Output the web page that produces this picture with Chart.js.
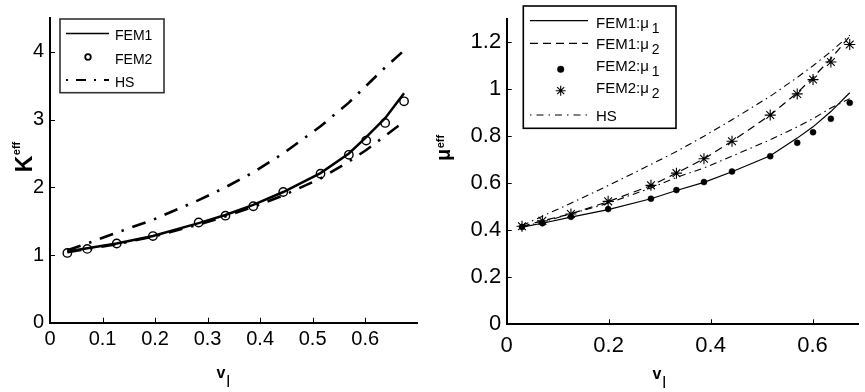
<!DOCTYPE html>
<html><head><meta charset="utf-8">
<script src="https://cdn.jsdelivr.net/npm/chart.js@4/dist/chart.umd.min.js"></script>
<style>
html,body{margin:0;padding:0;background:#fff;width:865px;height:392px;overflow:hidden}
#c1{position:absolute;left:0;top:0}
#c2{position:absolute;left:432px;top:0}
</style></head><body>
<canvas id="c1" width="432" height="392"></canvas>
<canvas id="c2" width="433" height="392"></canvas>
<script>
// ---------- data: left panel (bulk modulus) ----------
const vI = [0.033,0.071,0.127,0.196,0.283,0.334,0.387,0.444,0.515,0.569,0.602,0.638,0.674];
const kFEM1 = [1.05,1.10,1.17,1.28,1.47,1.59,1.74,1.93,2.21,2.50,2.74,3.02,3.39];
const kFEM2 = [1.03,1.09,1.17,1.28,1.48,1.58,1.72,1.93,2.20,2.48,2.69,2.95,3.27];
const kHSUpper = [1.07,1.17,1.33,1.52,1.81,2.00,2.22,2.50,2.90,3.25,3.50,3.77,4.02];
const kHSLower = [1.04,1.09,1.16,1.27,1.45,1.57,1.71,1.88,2.13,2.38,2.55,2.76,2.97];
const kTicksX = [0,0.1,0.2,0.3,0.4,0.5,0.6];
const kTicksY = [0,1,2,3,4];
const kLegend = ['FEM1','FEM2','HS'];
const kTitleX = 'v_I';
const kTitleY = 'K^eff';

// ---------- data: right panel (shear modulus) ----------
const vI2 = [0.030,0.070,0.126,0.199,0.283,0.333,0.387,0.442,0.517,0.570,0.601,0.636,0.673];
const mu1FEM1 = [0.413,0.430,0.456,0.488,0.534,0.569,0.604,0.649,0.717,0.792,0.840,0.905,0.985];
const mu2FEM1 = [0.417,0.440,0.470,0.522,0.590,0.643,0.704,0.779,0.890,0.985,1.050,1.130,1.225];
const mu1FEM2 = [0.414,0.430,0.457,0.490,0.534,0.571,0.605,0.650,0.715,0.772,0.817,0.874,0.942];
const mu2FEM2 = [0.417,0.440,0.469,0.523,0.591,0.643,0.704,0.779,0.890,0.980,1.041,1.116,1.190];
const muHSUpper = [0.420,0.460,0.515,0.590,0.680,0.735,0.800,0.870,0.970,1.050,1.100,1.160,1.230];
const muHSLower = [0.415,0.435,0.470,0.515,0.580,0.625,0.665,0.715,0.785,0.840,0.875,0.920,0.960];
const muTicksX = [0,0.2,0.4,0.6];
const muTicksY = [0,0.2,0.4,0.6,0.8,1,1.2];
const muLegend = ['FEM1:μ_1','FEM1:μ_2','FEM2:μ_1','FEM2:μ_2','HS'];
const muTitleX = 'v_I';
const muTitleY = 'μ^eff';

// ---------- helpers ----------
const pts = (xs, ys) => xs.map((x, i) => ({x, y: ys[i]}));
const fmt = v => String(Number(v.toFixed(3)));

function richParts(str) {
  const m = str.match(/^([^_^]*)([_^])(.*)$/);
  if (!m) return [{t: str, k: 'base'}];
  return [{t: m[1], k: 'base'}, {t: m[3], k: m[2] === '^' ? 'sup' : 'sub'}];
}
function drawRich(ctx, str, x, y, st, align) {
  const parts = richParts(str);
  const widths = parts.map(p => { ctx.font = st[p.k].font; return ctx.measureText(p.t).width; });
  const gap = st.gap || 0;
  const total = widths.reduce((a, b) => a + b, 0) + gap * (parts.length - 1);
  let cx = align === 'center' ? x - total / 2 : x;
  ctx.textBaseline = 'alphabetic';
  ctx.textAlign = 'left';
  parts.forEach((p, i) => {
    ctx.font = st[p.k].font;
    ctx.fillText(p.t, cx, y + (st[p.k].dy || 0));
    cx += widths[i] + gap;
  });
}

const extras = {
  id: 'extras',
  afterDraw(chart, args, o) {
    const ctx = chart.ctx;
    const xs = chart.scales.x, ys = chart.scales.y;
    ctx.save();
    // inward tick marks
    ctx.strokeStyle = '#000';
    ctx.lineWidth = 1;
    xs.ticks.forEach(t => {
      if (t.value === xs.min) return;
      const p = Math.round(xs.getPixelForValue(t.value)) + 0.5;
      ctx.beginPath(); ctx.moveTo(p, xs.top); ctx.lineTo(p, xs.top - o.tickLen); ctx.stroke();
    });
    ys.ticks.forEach(t => {
      if (t.value === ys.min) return;
      const p = Math.round(ys.getPixelForValue(t.value)) + 0.5;
      ctx.beginPath(); ctx.moveTo(ys.right, p); ctx.lineTo(ys.right + o.tickLen, p); ctx.stroke();
    });
    // axis titles
    ctx.fillStyle = '#000';
    drawRich(ctx, o.titleX.text, o.titleX.x, o.titleX.y, o.titleX.style, 'left');
    ctx.save();
    ctx.translate(o.titleY.x, o.titleY.y);
    ctx.rotate(-Math.PI / 2);
    drawRich(ctx, o.titleY.text, 0, 0, o.titleY.style, 'center');
    ctx.restore();
    // legend
    const L = o.legend;
    ctx.fillStyle = '#fff';
    ctx.fillRect(L.x, L.y, L.w, L.h);
    ctx.strokeStyle = L.borderColor; ctx.lineWidth = L.borderWidth;
    ctx.strokeRect(L.x, L.y, L.w, L.h);
    L.rows.forEach((r, i) => {
      const ds = chart.data.datasets[r.ds];
      ctx.save();
      if (ds.showLine) {
        ctx.strokeStyle = ds.borderColor;
        ctx.lineWidth = r.lw || ds.borderWidth;
        ctx.setLineDash(r.dash || ds.borderDash || []);
        ctx.beginPath(); ctx.moveTo(L.sx0, r.y); ctx.lineTo(L.sx1, r.y); ctx.stroke();
      } else {
        const bw = r.pbw || ds.pointBorderWidth;
        ctx.strokeStyle = ds.pointBorderColor;
        ctx.fillStyle = ds.pointBackgroundColor;
        ctx.lineWidth = bw;
        Chart.helpers.drawPoint(ctx, {pointStyle: ds.pointStyle, radius: r.pr || ds.pointRadius, rotation: 0, borderWidth: bw}, L.px, r.y);
      }
      ctx.restore();
      ctx.fillStyle = '#000';
      drawRich(ctx, L.labels[i], L.tx, r.ty, L.textStyle, 'left');
    });
    ctx.restore();
  }
};

function axisCfg(min, max, ticks, font, pad, fitSize, isX) {
  return {
    type: 'linear', min, max,
    afterBuildTicks: s => { s.ticks = ticks.map(v => ({value: v})); },
    afterFit: s => { if (isX) s.height = fitSize; else s.width = fitSize; },
    grid: {display: false, drawTicks: false},
    border: {display: true, color: '#000', width: 2},
    ticks: {color: '#000', font: {family: 'Liberation Sans', size: font}, padding: pad, callback: v => fmt(v), maxRotation: 0, autoSkip: false}
  };
}

// ---------- left chart ----------
new Chart(document.getElementById('c1'), {
  type: 'scatter',
  data: {datasets: [
    {label: kLegend[0], data: pts(vI, kFEM1), showLine: true, borderColor: '#000', borderWidth: 2.5, pointRadius: 0, fill: false},
    {label: kLegend[1], data: pts(vI, kFEM2), showLine: false, pointStyle: 'circle', pointRadius: 4.2, pointBorderWidth: 1.4, pointBorderColor: '#000', pointBackgroundColor: 'rgba(0,0,0,0)'},
    {label: kLegend[2], data: pts(vI, kHSUpper), showLine: true, borderColor: '#000', borderWidth: 2.6, borderDash: [14, 9, 2.5, 9], pointRadius: 0, fill: false},
    {label: kLegend[2], data: pts(vI, kHSLower), showLine: true, borderColor: '#000', borderWidth: 2.6, borderDash: [14, 9, 2.5, 9], pointRadius: 0, fill: false}
  ]},
  options: {
    responsive: false, animation: false, devicePixelRatio: 1,
    layout: {padding: {left: 0, right: 14.3, top: 10.4, bottom: 0}},
    scales: {
      x: axisCfg(0, 0.7, kTicksX, 20, 5, 69.3, true),
      y: axisCfg(0, 4.5, kTicksY, 20, 6, 50, false)
    },
    plugins: {
      legend: {display: false}, tooltip: {enabled: false},
      extras: {
        tickLen: 5,
        titleX: {text: kTitleX, x: 216.5, y: 378.3, style: {base: {font: 'bold 16px "Liberation Sans"'}, sub: {font: '16px "Liberation Sans"', dy: 8.4}, gap: 0.5}},
        titleY: {text: kTitleY, x: 32, y: 157, style: {base: {font: 'bold 23px "Liberation Sans"'}, sup: {font: 'bold 11px "Liberation Sans"', dy: -12}, gap: 0.5}},
        legend: {
          x: 60, y: 19, w: 104, h: 73.7, borderColor: '#333', borderWidth: 1.6,
          sx0: 66, sx1: 109, px: 88, tx: 115,
          labels: kLegend,
          textStyle: {base: {font: '14px "Liberation Sans"'}},
          rows: [
            {ds: 0, y: 33.5, ty: 40, lw: 1.6},
            {ds: 1, y: 57, ty: 64, pr: 2.8, pbw: 1.8},
            {ds: 2, y: 80, ty: 86.5, lw: 2, dash: [2, 8, 10, 8]}
          ]
        }
      }
    }
  },
  plugins: [extras]
});

// ---------- right chart ----------
new Chart(document.getElementById('c2'), {
  type: 'scatter',
  data: {datasets: [
    {label: muLegend[0], data: pts(vI2, mu1FEM1), showLine: true, borderColor: '#000', borderWidth: 1.2, pointRadius: 0, fill: false},
    {label: muLegend[1], data: pts(vI2, mu2FEM1), showLine: true, borderColor: '#000', borderWidth: 1.2, borderDash: [8, 5], pointRadius: 0, fill: false},
    {label: muLegend[2], data: pts(vI2, mu1FEM2), showLine: false, pointStyle: 'circle', pointRadius: 3, pointBorderWidth: 0.5, pointBorderColor: '#000', pointBackgroundColor: '#000'},
    {label: muLegend[3], data: pts(vI2, mu2FEM2), showLine: false, pointStyle: 'star', pointRadius: 5.5, pointBorderWidth: 1.1, pointBorderColor: '#000', pointBackgroundColor: '#000'},
    {label: muLegend[4], data: pts(vI2, muHSUpper), showLine: true, borderColor: '#000', borderWidth: 1.1, borderDash: [7, 4, 1.5, 4], pointRadius: 0, fill: false},
    {label: muLegend[4], data: pts(vI2, muHSLower), showLine: true, borderColor: '#000', borderWidth: 1.1, borderDash: [7, 4, 1.5, 4], pointRadius: 0, fill: false}
  ]},
  options: {
    responsive: false, animation: false, devicePixelRatio: 1,
    layout: {padding: {left: 0, right: 0, top: 5.5, bottom: 0}},
    scales: {
      x: axisCfg(0, 0.69, muTicksX, 22, 8, 67.7, true),
      y: axisCfg(0, 1.3, muTicksY, 22, 5.5, 74.7, false)
    },
    plugins: {
      legend: {display: false}, tooltip: {enabled: false},
      extras: {
        tickLen: 5,
        titleX: {text: muTitleX, x: 220.5, y: 379, style: {base: {font: 'bold 16px "Liberation Sans"'}, sub: {font: '16px "Liberation Sans"', dy: 9.3}, gap: 0.5}},
        titleY: {text: muTitleY, x: 18, y: 148, style: {base: {font: 'bold 20px "Liberation Sans"'}, sup: {font: 'bold 11px "Liberation Sans"', dy: -6}, gap: 0.5}},
        legend: {
          x: 91.3, y: 6, w: 152.7, h: 122.3, borderColor: '#000', borderWidth: 1.6,
          sx0: 98, sx1: 156, px: 128.7, tx: 164,
          labels: muLegend,
          textStyle: {base: {font: '15px "Liberation Sans"'}, sub: {font: '14px "Liberation Sans"', dy: 5}, gap: 3},
          rows: [
            {ds: 0, y: 20.7, ty: 28},
            {ds: 1, y: 43.3, ty: 49},
            {ds: 2, y: 69.3, ty: 71, pr: 3.3},
            {ds: 3, y: 90.7, ty: 93, pr: 5},
            {ds: 4, y: 115, ty: 120.5, dash: [1.5, 5, 7, 5]}
          ]
        }
      }
    }
  },
  plugins: [extras]
});
</script>
</body></html>
